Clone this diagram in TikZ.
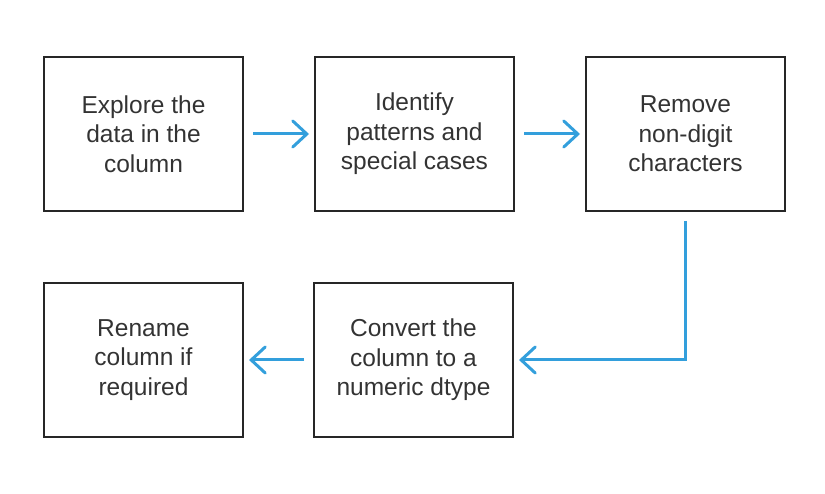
\documentclass[tikz,border=0pt]{standalone}
\usepackage{fontspec}
\setmainfont{Liberation Sans}
\usetikzlibrary{positioning, arrows.meta}
\definecolor{flowblue}{HTML}{339FDC}
\definecolor{textgray}{HTML}{333333}
\tikzset{
    x=1pt, y=1pt, % work in pixel-like units
    stepbox/.style={draw=black!85, line width=2pt, minimum width=199pt, minimum height=154pt,
        align=center, text=textgray, font=\fontsize{24.5}{29.5}\selectfont}, % sets the properties for each box
    flow/.style={draw=flowblue, line width=3pt, -{Straight Barb[length=14pt, width=26pt, line cap=round]},
        shorten <=9pt, shorten >=5pt}, % the blue connectors
    node distance=70pt and 70pt, % gap between the boxes
}
\begin{document}
\begin{tikzpicture}
                            \useasboundingbox (0,0) rectangle (825,-494);
                            \node[stepbox] (explore) at (143.5,-134) {Explore the\\data in the\\column};
                            \node[stepbox, right=of explore] (patterns) {Identify\\patterns and\\special cases};
                            \node[stepbox, right=of patterns] (remove) {Remove\\non-digit\\characters};
                            \node[stepbox, below=of explore] (rename) {Rename\\column if\\required};
                            \node[stepbox, right=69pt of rename] (convert) {Convert the\\column to a\\numeric dtype};
                            \draw[flow] (explore) -- (patterns);
                            \draw[flow] (patterns) -- (remove);
                            \draw[flow] (remove.south) |- (convert.east);
                            \draw[flow] (convert) -- (rename);
                        \end{tikzpicture}
\end{document}
